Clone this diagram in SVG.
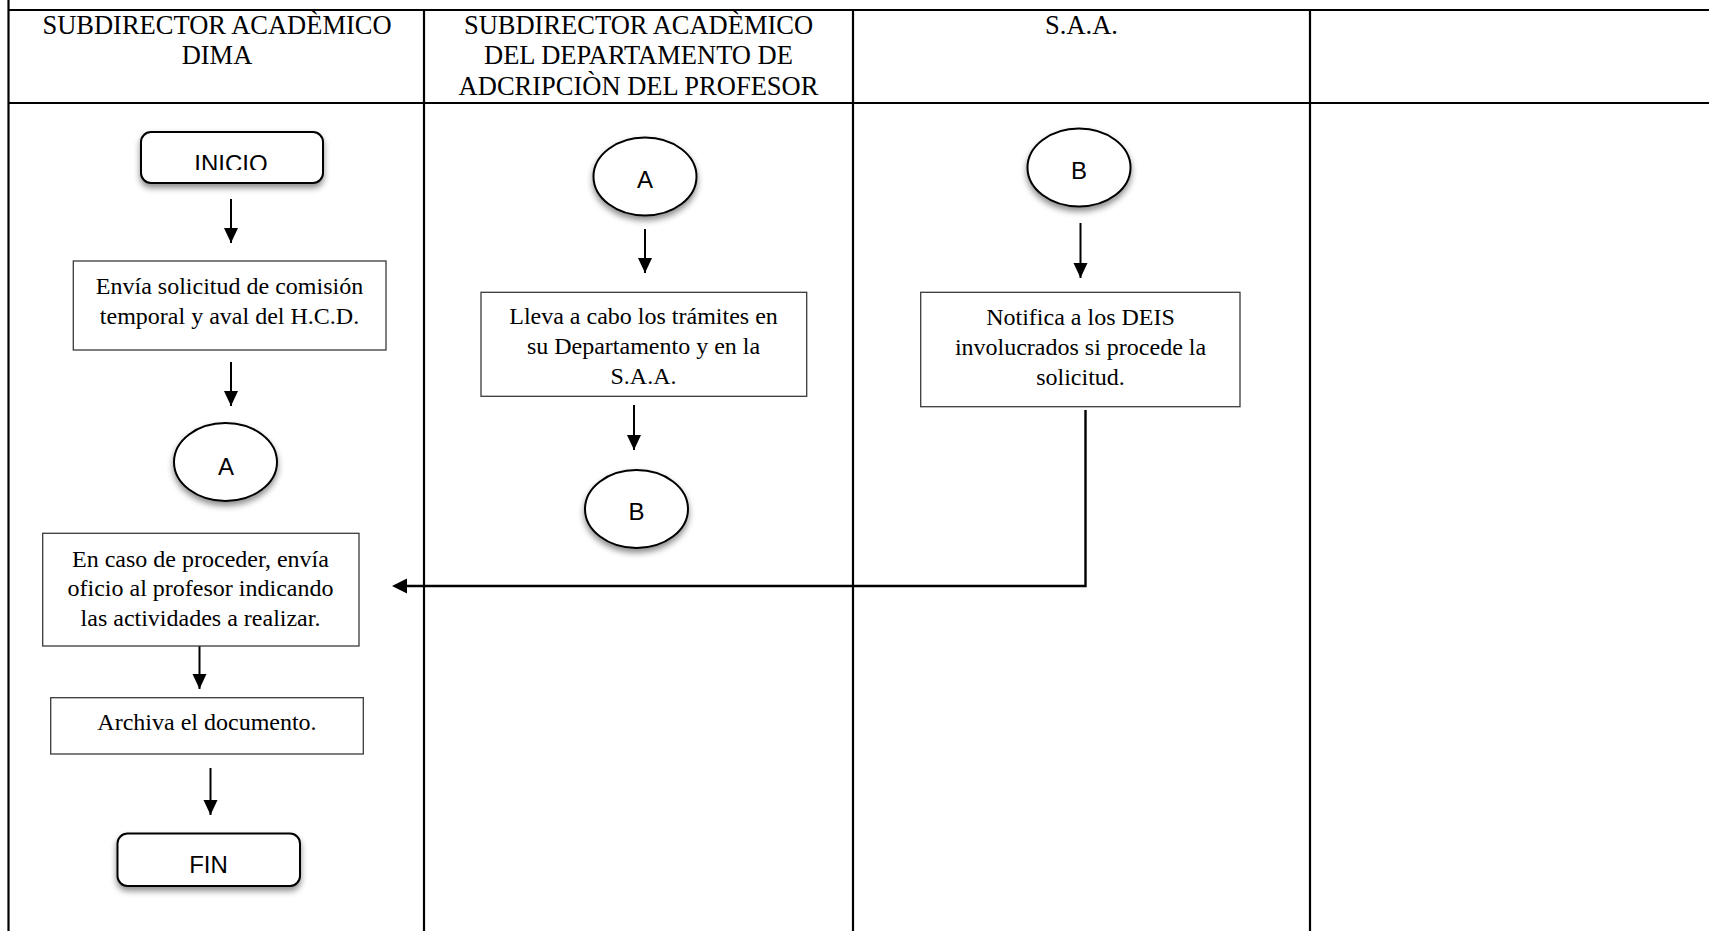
<svg xmlns="http://www.w3.org/2000/svg" width="1709" height="931" viewBox="0 0 1709 931">
  <style>
    .grid { stroke: #000; stroke-width: 2.2; fill: none; }
    .hdr { font-family: "Liberation Serif", "Times New Roman", serif; font-size: 26.5px; fill: #000; text-anchor: middle; }
    .txt { font-family: "Liberation Serif", "Times New Roman", serif; font-size: 24px; fill: #000; text-anchor: middle; }
    .lbl { font-family: "Liberation Sans", Arial, sans-serif; font-size: 24px; fill: #000; text-anchor: middle; }
    .box { fill: #fff; stroke: #3a3a3a; stroke-width: 1.3; }
    .term { fill: #fff; stroke: #000; stroke-width: 2; filter: url(#shadow); }
    .conn { stroke: #000; stroke-width: 2; fill: none; marker-end: url(#arrow); }
    .plain { stroke: #000; stroke-width: 2.4; fill: none; }
  </style>
  <defs>
    <filter id="shadow" x="-20%" y="-20%" width="140%" height="160%">
      <feDropShadow dx="0" dy="4" stdDeviation="3" flood-color="#000" flood-opacity="0.45"/>
    </filter>
    <marker id="arrow" markerWidth="8" markerHeight="8" refX="7.5" refY="3.5" orient="auto" markerUnits="strokeWidth">
      <path d="M0,0 L7.5,3.5 L0,7 Z" fill="#000"/>
    </marker>
    <clipPath id="clipInicio">
      <rect x="141" y="132" width="182" height="38"/>
    </clipPath>
  </defs>

  <rect width="1709" height="931" fill="#fff"/>

  <!-- swimlane table -->
  <g id="table" class="grid">
    <line x1="8.5" y1="0" x2="8.5" y2="931"/>
    <line x1="8.5" y1="10" x2="1709" y2="10"/>
    <line x1="8.5" y1="103" x2="1709" y2="103"/>
    <line x1="424" y1="10" x2="424" y2="931"/>
    <line x1="853" y1="10" x2="853" y2="931"/>
    <line x1="1310" y1="10" x2="1310" y2="931"/>
  </g>

  <!-- lane headers -->
  <g id="header-dima">
    <text class="hdr" x="217" y="33.5">SUBDIRECTOR ACADÈMICO</text>
    <text class="hdr" x="217" y="64">DIMA</text>
  </g>
  <g id="header-depto">
    <text class="hdr" x="638.5" y="33.5">SUBDIRECTOR ACADÈMICO</text>
    <text class="hdr" x="638.5" y="64">DEL DEPARTAMENTO DE</text>
    <text class="hdr" x="638.5" y="94.5">ADCRIPCIÒN DEL PROFESOR</text>
  </g>
  <g id="header-saa">
    <text class="hdr" x="1081.5" y="33.5">S.A.A.</text>
  </g>

  <!-- connectors -->
  <g id="connectors">
    <line class="conn" x1="231" y1="199" x2="231" y2="243"/>
    <line class="conn" x1="231" y1="362" x2="231" y2="406"/>
    <line class="conn" x1="199.5" y1="646" x2="199.5" y2="689"/>
    <line class="conn" x1="210.5" y1="768" x2="210.5" y2="815"/>
    <line class="conn" x1="645" y1="229" x2="645" y2="273"/>
    <line class="conn" x1="634" y1="405" x2="634" y2="450"/>
    <line class="conn" x1="1080.5" y1="223" x2="1080.5" y2="278"/>
    <polyline class="plain" points="1085.5,410 1085.5,586 407,586"/>
    <path d="M392,586 L407,578.5 L407,593.5 Z" fill="#000"/>
  </g>

  <!-- lane 1 -->
  <g id="inicio">
    <rect class="term" x="141" y="132" width="182" height="51" rx="10" ry="10"/>
    <text class="lbl" x="231" y="172" clip-path="url(#clipInicio)">INICIO</text>
  </g>
  <g id="envia">
    <rect class="box" x="73.3" y="261" width="312.7" height="89"/>
    <text class="txt" x="229.5" y="294">Envía solicitud de comisión</text>
    <text class="txt" x="229.5" y="323.5">temporal y aval del H.C.D.</text>
  </g>
  <g id="conector-a1">
    <ellipse class="term" cx="225.5" cy="462" rx="51.5" ry="39"/>
    <text class="lbl" x="226" y="475">A</text>
  </g>
  <g id="oficio">
    <rect class="box" x="42.7" y="533.3" width="316.3" height="112.7"/>
    <text class="txt" x="200.5" y="566.5">En caso de proceder, envía</text>
    <text class="txt" x="200.5" y="596">oficio al profesor indicando</text>
    <text class="txt" x="200.5" y="625.5">las actividades a realizar.</text>
  </g>
  <g id="archiva">
    <rect class="box" x="50.7" y="697.7" width="312.6" height="56.3"/>
    <text class="txt" x="207" y="730">Archiva el documento.</text>
  </g>
  <g id="fin">
    <rect class="term" x="117.5" y="833.5" width="182.5" height="52.5" rx="10" ry="10"/>
    <text class="lbl" x="208.5" y="872.5">FIN</text>
  </g>

  <!-- lane 2 -->
  <g id="conector-a2">
    <ellipse class="term" cx="645" cy="176.5" rx="51.5" ry="39"/>
    <text class="lbl" x="645" y="187.5">A</text>
  </g>
  <g id="tramites">
    <rect class="box" x="481" y="292.3" width="325.7" height="104"/>
    <text class="txt" x="643.5" y="324">Lleva a cabo los trámites en</text>
    <text class="txt" x="643.5" y="354">su Departamento y en la</text>
    <text class="txt" x="643.5" y="384">S.A.A.</text>
  </g>
  <g id="conector-b2">
    <ellipse class="term" cx="636.5" cy="509" rx="51.5" ry="39"/>
    <text class="lbl" x="636.5" y="520">B</text>
  </g>

  <!-- lane 3 -->
  <g id="conector-b3">
    <ellipse class="term" cx="1079" cy="167.5" rx="51.5" ry="39"/>
    <text class="lbl" x="1079" y="178.5">B</text>
  </g>
  <g id="notifica">
    <rect class="box" x="920.7" y="292.3" width="319.3" height="114.4"/>
    <text class="txt" x="1080.5" y="324.5">Notifica a los DEIS</text>
    <text class="txt" x="1080.5" y="354.5">involucrados si procede la</text>
    <text class="txt" x="1080.5" y="384.5">solicitud.</text>
  </g>
</svg>
